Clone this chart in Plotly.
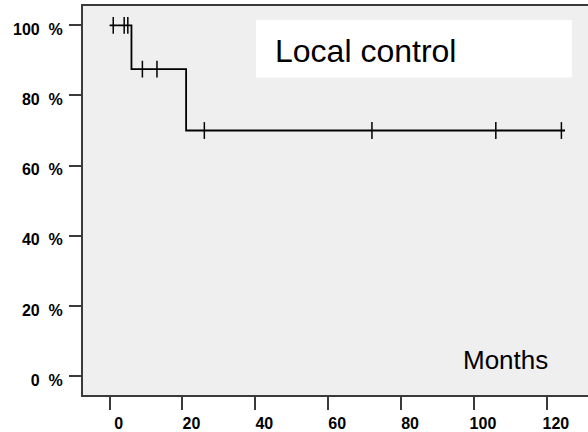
import plotly.graph_objects as go

# Kaplan-Meier step curve (months, % local control)
step_months = [0, 6, 21, 125]
step_surv = [100, 87.5, 70, 70]

# Censored observations
cens_months = [1, 4, 5, 9, 13, 26, 72, 106, 124]
cens_surv = [100, 100, 100, 87.5, 87.5, 70, 70, 70, 70]

x_ticks = [0, 20, 40, 60, 80, 100, 120]
x_labels = ["0", "20", "40", "60", "80", "100", "120"]
y_ticks = [0, 20, 40, 60, 80, 100]
y_labels = ["0\u00a0\u00a0%", "20\u00a0\u00a0%", "40\u00a0\u00a0%", "60\u00a0\u00a0%", "80\u00a0\u00a0%", "100\u00a0\u00a0%"]

legend_text = "Local control"
x_title = "Months"

fig = go.Figure()
fig.add_trace(go.Scatter(
    x=step_months, y=step_surv, mode="lines",
    line=dict(color="black", width=1.8, shape="hv"),
    showlegend=False, hoverinfo="skip"))
fig.add_trace(go.Scatter(
    x=cens_months, y=cens_surv, mode="markers",
    marker=dict(symbol="line-ns", size=12, line=dict(color="black", width=1.5)),
    showlegend=False, hoverinfo="skip"))

axis_col = "#3a3a3a"

fig.update_xaxes(
    range=[-7.3, 131.3], tickvals=x_ticks, ticktext=x_labels,
    showgrid=False, zeroline=False,
    showline=True, mirror=True, linecolor=axis_col, linewidth=2,
    ticks="outside", ticklen=13, tickwidth=2, tickcolor=axis_col,
    tickfont=dict(family="Liberation Sans", size=16, color="black", weight="bold"),
    ticklabelshift=9, ticklabelstandoff=0)
fig.update_yaxes(
    range=[-5.4, 105.5], tickvals=y_ticks, ticktext=y_labels,
    showgrid=False, zeroline=False,
    showline=True, mirror=False, linecolor=axis_col, linewidth=2,
    ticks="outside", ticklen=12, tickwidth=2, tickcolor=axis_col,
    tickfont=dict(family="Liberation Sans", size=16, color="black", weight="bold"),
    ticklabelshift=4, ticklabelstandoff=3)

fig.add_shape(type="rect", xref="x domain", yref="y domain",
              x0=0.3426, x1=0.968, y0=0.816, y1=0.964,
              fillcolor="white", line=dict(width=0), layer="below")
fig.add_annotation(text=legend_text, xref="x domain", yref="y domain",
                   x=0.377, y=0.885, xanchor="left", yanchor="middle",
                   showarrow=False,
                   font=dict(family="Liberation Sans", size=32, color="black"))
fig.add_annotation(text=x_title, xref="x domain", yref="y domain",
                   x=0.749, y=0.09, xanchor="left", yanchor="middle",
                   showarrow=False,
                   font=dict(family="Liberation Sans", size=26, color="black"))

fig.update_layout(
    width=588, height=432,
    margin=dict(l=83, r=0, t=6, b=34),
    paper_bgcolor="white", plot_bgcolor="#efefef",
    showlegend=False)

fig.write_html("out.html", config={"displayModeBar": False},
               post_script="document.body.style.margin='0';document.body.style.padding='0';document.body.style.overflow='hidden';")
